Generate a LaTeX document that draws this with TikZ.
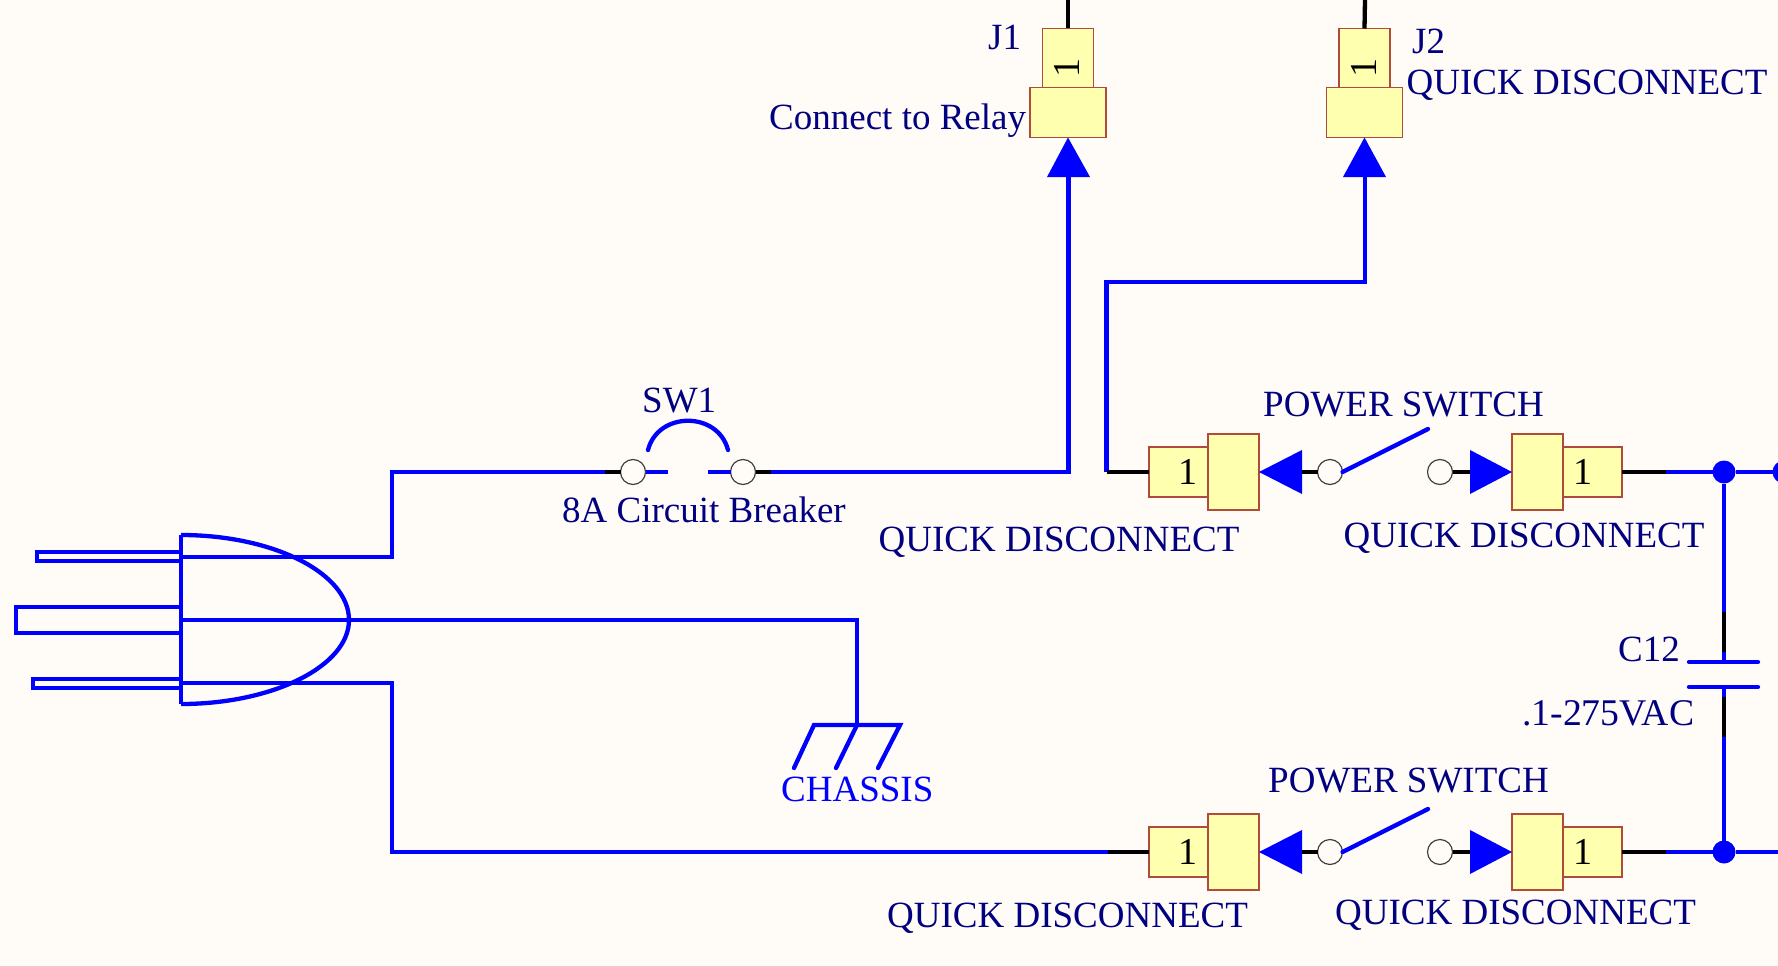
\documentclass[tikz,border=0pt]{standalone}
\usepackage{fontspec}
\setmainfont{Liberation Serif}
\definecolor{paper}{HTML}{FFFCF8}
\definecolor{wireblue}{HTML}{0000FF}
\definecolor{labelnavy}{HTML}{000080}
\definecolor{boxfill}{HTML}{FFFFB0}
\definecolor{boxline}{HTML}{B04A3A}
\tikzset{
  wire/.style={draw=wireblue,line width=4.3pt,line join=miter},
  roundwire/.style={wire,line cap=round},
  pinwire/.style={draw=black,line width=4.3pt},
  conbox/.style={rectangle,draw=boxline,fill=boxfill,line width=1.3pt,inner sep=0pt,outer sep=0pt},
  pinnum/.style={inner sep=0pt,text=black,font=\fontsize{38}{38}\selectfont},
  term/.style={circle,draw=black!75,fill=paper,line width=1.2pt,minimum size=25pt,inner sep=0pt,outer sep=0pt},
  tip/.style={fill=wireblue,draw=none},
  junction/.style={circle,fill=wireblue,draw=none,minimum size=23pt,inner sep=0pt,outer sep=0pt},
  lab/.style={anchor=base west,inner sep=0pt,text=labelnavy,font=\fontsize{37}{37}\selectfont},
}
\begin{document}
\begin{tikzpicture}[x=1pt,y=-1pt]
\useasboundingbox[fill=paper] (0,0) rectangle (1778,966);

% connectors J1, J2
\node[conbox,minimum width=51pt,minimum height=59pt] (j1top) at (1068,58) {};
\node[conbox,minimum width=76pt,minimum height=50pt] (j1base) at (1068,112.5) {};
\node[conbox,minimum width=51pt,minimum height=59pt] (j2top) at (1364.5,58) {};
\node[conbox,minimum width=76pt,minimum height=50pt] (j2base) at (1364.5,112.5) {};
\node[pinnum,rotate=90] (j1num) at (1067,68) {1};
\node[pinnum,rotate=90] (j2num) at (1364,68) {1};
\coordinate (j1free) at (1068,0);
\coordinate (j2free) at (1365,0);
\draw[pinwire] (j1free) -- (j1top.north);
\draw[pinwire] (j2free) -- (j2top.north);

% upper row
\node[conbox,minimum width=59pt,minimum height=50pt] (ula) at (1178.5,472) {};
\node[conbox,minimum width=51pt,minimum height=76pt] (ulb) at (1233.5,472) {};
\node[conbox,minimum width=51pt,minimum height=76pt] (urb) at (1537.5,472) {};
\node[conbox,minimum width=59pt,minimum height=50pt] (ura) at (1592.5,472) {};
\node[pinnum] (ulnum) at (1187.5,472) {1};
\node[pinnum] (urnum) at (1583,472) {1};
\node[term] (ulc) at (1330,472) {};
\node[term] (urc) at (1440,472) {};
% lower row
\node[conbox,minimum width=59pt,minimum height=50pt] (lla) at (1178.5,852) {};
\node[conbox,minimum width=51pt,minimum height=76pt] (llb) at (1233.5,852) {};
\node[conbox,minimum width=51pt,minimum height=76pt] (lrb) at (1537.5,852) {};
\node[conbox,minimum width=59pt,minimum height=50pt] (lra) at (1592.5,852) {};
\node[pinnum] (llnum) at (1187.5,852) {1};
\node[pinnum] (lrnum) at (1583,852) {1};
\node[term] (llc) at (1330,852) {};
\node[term] (lrc) at (1440,852) {};
% breaker
\node[term] (bl) at (633,472) {};
\node[term] (br) at (743,472) {};

\node[junction] (ju) at (1724,472) {};
\node[junction] (jl) at (1724,852) {};
\node[junction] (jedge) at (1784,472) {};

% helper points
\coordinate (wb1) at (605,472);
\coordinate (wb2) at (771,472);
\coordinate (plugA) at (181,557);
\coordinate (plugB) at (181,620);
\coordinate (plugC) at (181,683);
\coordinate (gnd) at (857,725);
\coordinate (j1in) at (1068.5,177);
\coordinate (j2in) at (1365,177);
\coordinate (ulfree) at (1106.5,472);
\coordinate (llfree) at (1108,852);
\coordinate (urfree) at (1666,472);
\coordinate (lrfree) at (1666,852);
\coordinate (capT) at (1724,662);
\coordinate (capB) at (1724,687);

% plug
\draw[wire] (181,535) -- (181,704);
\draw[wire] (181,535) .. controls (273,535) and (349,573) .. (349,620) .. controls (349,666) and (273,704) .. (181,704);
\draw[wire] (181,552) -- (37,552) -- (37,561) -- (181,561);
\draw[wire] (181,607) -- (16,607) -- (16,633) -- (181,633);
\draw[wire] (181,679) -- (33,679) -- (33,688) -- (181,688);

% mains wiring
\draw[wire] (plugA) -| (392,472) -- (wb1);
\draw[pinwire] (wb1) -- (bl.west);
\draw[wire] (bl.east) -- (668,472);
\draw[wire] (708,472) -- (br.west);
\draw[pinwire] (br.east) -- (wb2);
\draw[wire] (wb2) -| (j1in);
\draw[wire] (plugB) -| (gnd);
\draw[wire] (plugC) -| (392,852) -- (llfree);

% chassis
\draw[roundwire] (794,768) -- (814,725) -- (900,725) -- (878,768);
\draw[roundwire] (gnd) -- (836,768);

% breaker arc
\draw[roundwire] (648,450) .. controls (658,411) and (718,411) .. (728,450);

% J2 wiring
\draw[wire] (ulfree) |- (1106.5,282) -| (j2in);
\draw[pinwire] (ulfree) -- (ula.west);
\draw[pinwire] (llfree) -- (lla.west);

% pin stubs
\draw[pinwire] (1300,472) -- (ulc.west);
\draw[pinwire] (urc.east) -- (1472,472);
\draw[pinwire] (1300,852) -- (llc.west);
\draw[pinwire] (lrc.east) -- (1472,852);
\draw[pinwire] (ura.east) -- (urfree);
\draw[pinwire] (lra.east) -- (lrfree);
\draw[wire] (urfree) -- (ju);
\draw[wire] (lrfree) -- (jl);
\draw[wire] (ju) -- (jedge);
\draw[wire] (jl) -- (1778,852);

% switch blades
\draw[roundwire] (ulc.east) -- (1428,429);
\draw[roundwire] (llc.east) -- (1428,809);

% arrowheads
\fill[tip] (j1base.south) -- (1047,177) -- (1090,177) -- cycle;
\fill[tip] (j2base.south) -- (1343,177) -- (1386,177) -- cycle;
\fill[tip] (ulb.east) -- (1302,450) -- (1302,494) -- cycle;
\fill[tip] (urb.west) -- (1470,450) -- (1470,494) -- cycle;
\fill[tip] (llb.east) -- (1302,830) -- (1302,874) -- cycle;
\fill[tip] (lrb.west) -- (1470,830) -- (1470,874) -- cycle;

% capacitor
\draw[wire] (ju) -- (1724,612);
\draw[pinwire] (1724,612) -- (1724,652);
\draw[wire] (1724,652) -- (capT);
\draw[roundwire] (1689,662) -- (1758,662);
\draw[roundwire] (1689,687) -- (1758,687);
\draw[wire] (capB) -- (1724,697);
\draw[pinwire] (1724,697) -- (1724,737);
\draw[wire] (1724,737) -- (jl);

% labels
\node[lab] (tj1) at (988,50) {J1};
\node[lab] (trelay) at (769,129) {Connect to Relay};
\node[lab] (tj2) at (1412,54) {J2};
\node[lab] (tqd1) at (1406.5,95) {QUICK DISCONNECT};
\node[lab] (tsw) at (642,412) {SW1};
\node[lab] (tcb) at (562,522) {8A Circuit Breaker};
\node[lab] (tqd2) at (878.5,551) {QUICK DISCONNECT};
\node[lab] (tps1) at (1263,416) {POWER SWITCH};
\node[lab] (tqd3) at (1343.5,547) {QUICK DISCONNECT};
\node[lab] (tc12) at (1618,661) {C12};
\node[lab,font=\fontsize{37.7}{37.7}\selectfont] (tval) at (1522,725) {.1-275VAC};
\node[lab,text=wireblue] (tch) at (781,801) {CHASSIS};
\node[lab] (tps2) at (1268,792) {POWER SWITCH};
\node[lab] (tqd4) at (887,927) {QUICK DISCONNECT};
\node[lab] (tqd5) at (1335,924) {QUICK DISCONNECT};
\end{tikzpicture}
\end{document}
